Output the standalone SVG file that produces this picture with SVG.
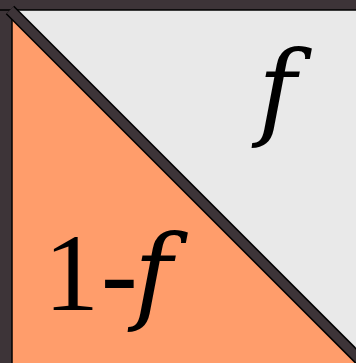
<svg xmlns="http://www.w3.org/2000/svg" width="356" height="363" viewBox="0 0 356 363">
<style>
.num{font-family:"Liberation Serif","Times New Roman",serif;font-size:110px;fill:#000}
.it{font-family:"DejaVu Serif",serif;font-style:italic;font-size:104px;fill:#000}
</style>
<rect x="0" y="0" width="356" height="363" fill="#3d3438"/>
<g id="upper">
<polygon points="11,10 356,10 356,363" fill="#e9e9e9"/>
</g>
<g id="lower">
<polygon points="12,11 12,363 356,363" fill="#ff9d6b"/>
</g>
<g id="edges">
<line x1="0" y1="10" x2="356" y2="10" stroke="#000" stroke-width="1.5"/>
<line x1="12" y1="10" x2="12" y2="363" stroke="#000" stroke-width="1.5"/>
<line x1="10" y1="10" x2="368" y2="368" stroke="#000" stroke-width="12"/>
<line x1="10" y1="10" x2="368" y2="368" stroke="#3d3438" stroke-width="9"/>
</g>
<g id="label-f"><text class="it" x="258" y="126">f</text></g>
<g id="label-1mf">
<text class="num" x="44" y="310">1</text>
<text class="num" x="101" y="310">-</text>
<text class="it" x="134" y="310">f</text>
</g>
</svg>
